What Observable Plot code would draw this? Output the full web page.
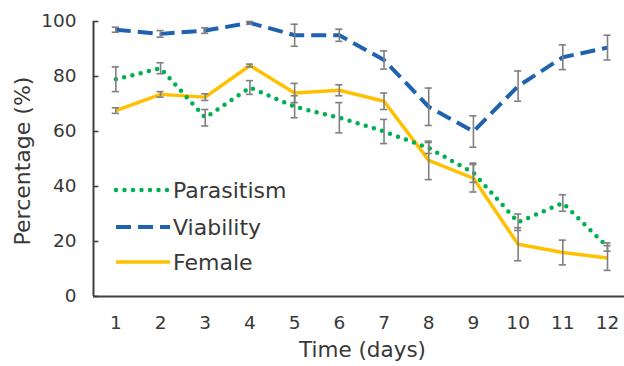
<!DOCTYPE html>
<html>
<head>
<meta charset="utf-8">
<script src="https://cdn.jsdelivr.net/npm/d3@7"></script>
<script src="https://cdn.jsdelivr.net/npm/@observablehq/plot@0.6"></script>
<style>
  body { margin: 0; background: #fff; }
  #wrap { position: relative; width: 624px; height: 366px; font-family: "DejaVu Sans", sans-serif; }
  #legend { position: absolute; left: 110px; top: 172px; }
</style>
</head>
<body>
<div id="wrap"></div>
<script>
// ---- data ----
const days = [1, 2, 3, 4, 5, 6, 7, 8, 9, 10, 11, 12];
const parasitism    = [79, 83, 65, 76, 69, 65, 60, 54, 45, 27, 34, 18];
const parasitismErr = [4.5, 2, 3, 2.5, 4, 5.5, 4.4, 2, 3.5, 3, 3, 1.5];
const viability     = [97, 95.5, 96.7, 99.5, 95, 95, 86, 69, 60, 76.5, 87, 90.5];
const viabilityErr  = [0.9, 1.2, 1, 0.5, 4, 2.2, 3.3, 6.8, 5.7, 5.5, 4.5, 4.5];
const female        = [67.6, 73.5, 72.5, 84, 74, 75, 71, 49.5, 43, 19, 16, 14];
const femaleErr     = [1, 1, 1.2, 0.5, 3.5, 2, 3, 7, 5, 6, 4.5, 4.5];
const yTicks = [0, 20, 40, 60, 80, 100];
const seriesNames = ["Parasitism", "Viability", "Female"];
const seriesColors = ["#00b050", "#1f62b0", "#ffc000"];
const seriesDash = ["0,8.5", "15,7", null];
const seriesWidth = [4.5, 4, 3.5];

const values = [parasitism, viability, female];
const errors = [parasitismErr, viabilityErr, femaleErr];
const rows = seriesNames.flatMap((s, k) => days.map((d, i) => ({
  day: d, series: s, value: values[k][i], err: errors[k][i],
  lo: values[k][i] - errors[k][i], hi: values[k][i] + errors[k][i]
})));

const xDomain = [0.5, 12.38];
const capHalf = 0.08;
const drawOrder = [1, 2, 0]; // viability, female, parasitism

const lineMarks = drawOrder.map(k => Plot.line(rows.filter(r => r.series === seriesNames[k]), {
  x: "day", y: "value",
  stroke: seriesColors[k], strokeWidth: seriesWidth[k],
  strokeDasharray: seriesDash[k] || undefined,
  strokeLinecap: seriesDash[k] === "0,8.5" ? "round" : "butt",
  strokeLinejoin: "round"
}));

const textColor = "#383838";
const errColor = "#7f7f7f";
const chart = Plot.plot({
  width: 624,
  height: 366,
  marginLeft: 93,
  marginRight: 0,
  marginTop: 21,
  marginBottom: 70,
  style: { fontFamily: "DejaVu Sans, sans-serif", fontSize: "18.5px", color: textColor, background: "#fff" },
  x: { domain: xDomain },
  y: { domain: [0, 100] },
  marks: [
    Plot.axisY({ ticks: yTicks, tickSize: 0, tickPadding: 17, label: null }),
    Plot.axisX({ ticks: days, tickSize: 0, tickPadding: 19, label: null }),
    ...lineMarks,
    Plot.ruleX(rows, { x: "day", y1: "lo", y2: "hi", stroke: errColor, strokeWidth: 1.6 }),
    Plot.ruleY(rows, { y: "hi", x1: d => d.day - capHalf, x2: d => d.day + capHalf, stroke: errColor, strokeWidth: 1.6 }),
    Plot.ruleY(rows, { y: "lo", x1: d => d.day - capHalf, x2: d => d.day + capHalf, stroke: errColor, strokeWidth: 1.6 }),
    Plot.ruleX([xDomain[0]], { y1: 0, y2: 100, stroke: "#404040", strokeWidth: 2 }),
    Plot.ruleY([0], { stroke: "#404040", strokeWidth: 2 }),
    Plot.ruleY(yTicks, { y: d => d, x1: xDomain[0], x2: xDomain[0] + 0.12, stroke: "#404040", strokeWidth: 1.6 }),
    Plot.text(["Time (days)"], { frameAnchor: "bottom", dx: 3.5, dy: 54, fontSize: 21.5, lineAnchor: "middle" }),
    Plot.text(["Percentage (%)"], { frameAnchor: "left", textAnchor: "middle", lineAnchor: "middle", dx: -71, dy: 2, rotate: -90, fontSize: 22 })
  ]
});

const wrap = document.getElementById("wrap");
wrap.appendChild(chart);

// legend inside the plot area
const leg = d3.select(wrap).append("svg")
  .attr("id", "legend").attr("width", 190).attr("height", 108);
const rowY = [18, 55, 90];
seriesNames.forEach((s, k) => {
  const g = leg.append("g").attr("transform", `translate(0,${rowY[k]})`);
  g.append("line").attr("x1", 6).attr("x2", 60).attr("y1", 0).attr("y2", 0)
    .attr("stroke", seriesColors[k]).attr("stroke-width", seriesWidth[k])
    .attr("stroke-dasharray", seriesDash[k])
    .attr("stroke-linecap", seriesDash[k] === "0,8.5" ? "round" : "butt");
  g.append("text").attr("x", 63).attr("y", 0).attr("dy", "0.36em")
    .attr("fill", textColor).style("font-family", "DejaVu Sans, sans-serif")
    .style("font-size", "22px").text(s);
});
</script>
</body>
</html>
